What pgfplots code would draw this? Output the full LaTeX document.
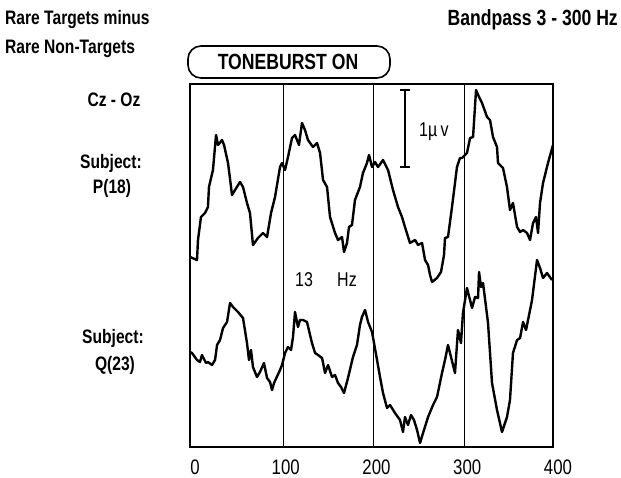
\documentclass[border=0pt]{standalone}
\usepackage{pgfplots}
\pgfplotsset{compat=1.18}
\usepackage{fontspec}
\setmainfont{Liberation Sans}
\newfontfamily\cf{Liberation Sans}[FakeStretch=0.8]
\newcommand{\lf}{\cf\bfseries\fontsize{19.5}{22}\selectfont}
\begin{document}
\begin{tikzpicture}
\useasboundingbox (0,0) rectangle (621pt,477pt);
\begin{axis}[
  at={(190pt,30pt)}, anchor=south west,
  scale only axis, width=363pt, height=363pt,
  xmin=0, xmax=400, ymin=0, ymax=363,
  xtick={0,100,200,300,400}, xticklabels={0,100,200,300,400},
  ytick=\empty,
  major tick length=0pt,
  extra x ticks={103,202,302}, extra x tick labels={},
  extra x tick style={xmajorgrids=true, major grid style={black, line width=0.7pt}, major tick length=0pt},
  axis line style={line width=1.3pt},
  xticklabel style={font=\cf\fontsize{21}{22}\selectfont, anchor=base, yshift=-27pt, xshift=5pt},
]
% Subject P(18), upper trace (arbitrary amplitude units)
\addplot[black, line width=2.4pt, line join=round] table {
0 190
7.7 187
8.8 207
12.1 230
16.5 234
19.8 240
20.9 260
25.3 277
28.7 312
30.9 302
35.3 307
37.5 302
41.9 284
46.3 252
49.6 257
55.1 265
58.4 260
62.8 244
66.1 234
69.4 202
74.9 209
80.4 214
84.9 210
89.3 234
93.7 250
99.2 280
101.4 284
104.7 277
108 290
112.4 309
115.7 312
120.1 302
123.4 324
126.7 317
130 307
135.5 300
140 304
143.3 294
146.6 267
151 260
154.3 230
159.8 214
163.1 207
167.5 210
169.7 195
173 204
175.2 220
178.5 222
181.8 247
187.3 260
190.6 274
195 284
197.3 292
200.6 280
203.9 285
207.2 280
212.7 287
218.2 277
223.7 257
229.2 240
233.6 230
236.9 220
242.4 204
248 207
251.3 202
255.7 204
259 187
262.3 182
264.5 172
266.7 165
272.2 169
276.6 175
279.9 192
281 209
284.3 210
288.7 240
294.2 280
297.5 289
299.7 289
305.2 294
308.6 309
311.9 310
315.2 357
318.5 350
321.8 344
327.3 330
330.6 327
333.9 310
338.3 300
339.4 284
344.9 279
349.3 260
352.6 237
355.9 244
360.4 220
363.7 215
367 217
371.4 214
374.7 207
378 224
381.3 230
383.5 214
385.7 244
389 264
394.5 284
400 302
};
% Subject Q(23), lower trace
\addplot[black, line width=2.4pt, line join=round] table {
0 95
2.2 94
7.7 87
11 85
13.2 92
17.6 84
19.8 85
24.2 82
27.6 87
29.8 102
33.1 107
36.4 119
40.8 125
44.1 144
47.4 140
52.9 135
58.4 129
62.8 104
65 87
67.2 97
69.4 80
73.8 70
77.1 75
81.5 84
84.9 69
88.2 65
90.4 57
92.6 64
99.2 77
101.4 82
104.7 94
108 100
111.3 97
113.5 110
115.7 135
119 120
121.2 127
124.5 127
128.9 125
134.4 104
137.8 94
141.1 92
145.5 89
148.8 74
152.1 82
156.5 70
159.8 72
163.1 64
166.4 60
169.7 54
174.1 69
179.6 90
184 102
187.3 122
189.5 130
192.9 137
196.2 125
200.6 115
206.1 87
209.4 70
212.7 54
217.1 39
220.4 42
225.9 34
231.4 27
234.7 15
236.9 30
240.2 22
243.5 32
246.8 27
250.2 17
253.5 4
256.8 14
262.3 30
267.8 42
272.2 50
277.7 74
281 87
284.3 102
287.6 90
292 74
295.3 117
298.6 104
300.8 134
305.2 159
310.8 139
314.1 150
317.4 149
318.5 175
320.7 160
322.9 164
328.4 124
332.8 64
338.3 37
343.8 15
349.3 30
352.6 47
355.9 94
360.4 107
363.7 109
367 125
370.3 117
372.5 127
376.9 147
382.4 187
385.7 179
389 169
393.4 174
398.9 167
};
% 1 microvolt scale bar
\draw[line width=1.8pt] (axis cs:237,357) -- (axis cs:237,280);
\draw[line width=1.8pt] (axis cs:231.5,357) -- (axis cs:242.5,357);
\draw[line width=1.8pt] (axis cs:231.5,280) -- (axis cs:242.5,280);
\end{axis}
% annotations
\node[anchor=west, inner sep=0pt] at (5pt,457pt) {\lf Rare Targets minus};
\node[anchor=west, inner sep=0pt] at (5pt,428pt) {\lf Rare Non-Targets};
\node[anchor=east, inner sep=0pt] at (618pt,457pt) {\cf\bfseries\fontsize{22}{24}\selectfont Bandpass 3 - 300 Hz};
\draw[line width=1.6pt, rounded corners=13pt] (188pt,399pt) rectangle (390pt,431pt);
\node[inner sep=0pt] at (288pt,415pt) {\cf\bfseries\fontsize{22}{24}\selectfont TONEBURST ON};
\node[inner sep=0pt] at (114pt,377pt) {\lf Cz - Oz};
\node[inner sep=0pt] at (111pt,314pt) {\lf Subject:};
\node[inner sep=0pt] at (112pt,289pt) {\lf P(18)};
\node[inner sep=0pt] at (113pt,139pt) {\lf Subject:};
\node[inner sep=0pt] at (115pt,112pt) {\lf Q(23)};
\node[inner sep=0pt] at (304pt,197pt) {\cf\fontsize{20}{22}\selectfont 13};
\node[inner sep=0pt] at (347pt,197pt) {\cf\fontsize{20}{22}\selectfont Hz};
\node[anchor=west, inner sep=0pt] at (419pt,345pt) {\cf\fontsize{20}{22}\selectfont 1µ\,v};
\end{tikzpicture}
\end{document}
